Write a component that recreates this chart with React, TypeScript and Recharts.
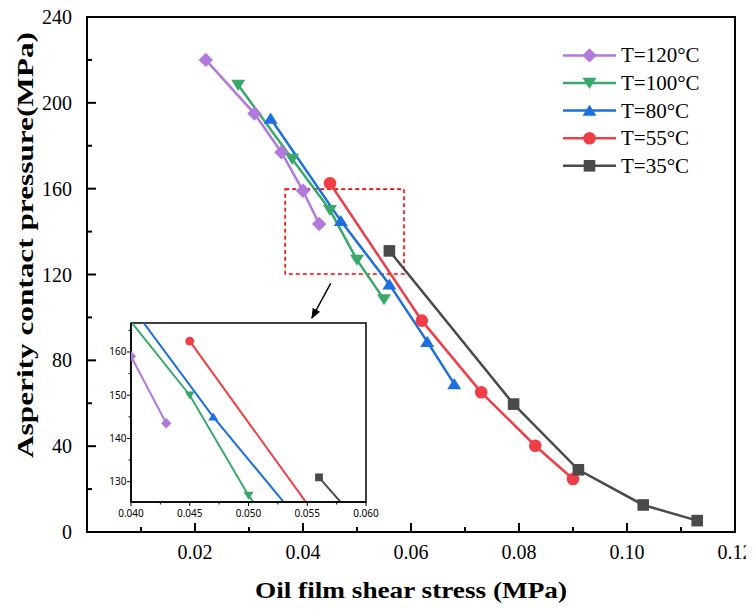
import React from "react";
import { LineChart, Line, XAxis, YAxis, ReferenceArea, Legend } from "recharts";

// oil film shear stress (MPa) vs asperity contact pressure (MPa), one pair per temperature
const t120Stress = [0.022, 0.031, 0.036, 0.04, 0.043];
const t120Pressure = [220, 195, 177, 159, 143.5];
const t100Stress = [0.028, 0.038, 0.045, 0.05, 0.055];
const t100Pressure = [208.3, 173.8, 150, 126.8, 108.4];
const t80Stress = [0.034, 0.047, 0.056, 0.063, 0.068];
const t80Pressure = [192.7, 145, 115.4, 88.7, 69];
const t55Stress = [0.045, 0.062, 0.073, 0.083, 0.09];
const t55Pressure = [162.5, 98.5, 65.1, 40.2, 24.7];
const t35Stress = [0.056, 0.079, 0.091, 0.103, 0.113];
const t35Pressure = [131, 59.6, 29, 12.6, 5.3];

const seriesLabels = ["T=120°C", "T=100°C", "T=80°C", "T=55°C", "T=35°C"];

const xMajor = [0.02, 0.04, 0.06, 0.08, 0.1, 0.12];
const xMinor = [0.01, 0.03, 0.05, 0.07, 0.09, 0.11];
const yMajor = [0, 40, 80, 120, 160, 200, 240];
const yMinor = [20, 60, 100, 140, 180, 220];

const insetXMajor = [0.04, 0.045, 0.05, 0.055, 0.06];
const insetXMinor = [0.0425, 0.0475, 0.0525, 0.0575];
const insetYMajor = [130, 140, 150, 160];
const insetYMinor = [135, 145, 155, 165];

// dashed zoom window drawn on the main chart
const zoomX = [0.0367, 0.0587];
const zoomY = [120.2, 159.8];

const toPoints = (xs: number[], ys: number[]) => xs.map((x, i) => ({ x, y: ys[i] }));
const series = [
  toPoints(t120Stress, t120Pressure),
  toPoints(t100Stress, t100Pressure),
  toPoints(t80Stress, t80Pressure),
  toPoints(t55Stress, t55Pressure),
  toPoints(t35Stress, t35Pressure),
];

const colors = ["#B279DD", "#38A96A", "#1C6FDF", "#EF3E46", "#4A4A4A"];
const shapes = ["diamond", "down", "up", "circle", "square"];
const mainSize = [7.2, 7, 7, 6.3, 5.8];
const insetSize = [5.2, 5, 5, 4.4, 3.9];

const SERIF = "'Liberation Serif', 'Times New Roman', serif";
const SANS = "'Noto Sans', 'Open Sans', sans-serif";

function Marker({ shape, cx, cy, r, color }: any) {
  if (cx == null || cy == null) return null;
  switch (shape) {
    case "diamond":
      return <polygon points={`${cx},${cy - r} ${cx + r},${cy} ${cx},${cy + r} ${cx - r},${cy}`} fill={color} />;
    case "down":
      return <polygon points={`${cx - r},${cy - r * 0.75} ${cx + r},${cy - r * 0.75} ${cx},${cy + r * 0.85}`} fill={color} />;
    case "up":
      return <polygon points={`${cx},${cy - r * 0.85} ${cx + r},${cy + r * 0.75} ${cx - r},${cy + r * 0.75}`} fill={color} />;
    case "circle":
      return <circle cx={cx} cy={cy} r={r} fill={color} />;
    default:
      return <rect x={cx - r} y={cy - r} width={2 * r} height={2 * r} fill={color} />;
  }
}

const isIn = (list: number[], v: number) => list.some((t) => Math.abs(t - v) < 1e-9);

const MainXTick = ({ x, y, payload }: any) => {
  const major = isIn(xMajor, payload.value);
  return (
    <g>
      <line x1={x} x2={x} y1={y} y2={y - (major ? 9 : 5)} stroke="#000" strokeWidth={2} />
      {major && (
        <text x={x} y={y + 27} textAnchor="middle" fontSize={20} fontFamily={SERIF} fill="#000">
          {payload.value.toFixed(2)}
        </text>
      )}
    </g>
  );
};

const MainYTick = ({ x, y, payload }: any) => {
  const major = isIn(yMajor, payload.value);
  return (
    <g>
      <line x1={x} x2={x + (major ? 9 : 5)} y1={y} y2={y} stroke="#000" strokeWidth={2} />
      {major && (
        <text x={x - 15} y={y + 7} textAnchor="end" fontSize={20} fontFamily={SERIF} fill="#000">
          {payload.value}
        </text>
      )}
    </g>
  );
};

const InsetXTick = ({ x, y, payload }: any) => {
  const major = isIn(insetXMajor, payload.value);
  return (
    <g>
      <line x1={x} x2={x} y1={y} y2={y + (major ? 4 : 2.5)} stroke="#000" strokeWidth={1} />
      {major && (
        <text x={x} y={y + 15} textAnchor="middle" fontSize={10} fontFamily={SANS} fill="#000">
          {payload.value.toFixed(3)}
        </text>
      )}
    </g>
  );
};

const InsetYTick = ({ x, y, payload }: any) => {
  const major = isIn(insetYMajor, payload.value);
  return (
    <g>
      <line x1={x} x2={x - (major ? 4 : 2.5)} y1={y} y2={y} stroke="#000" strokeWidth={1} />
      {major && (
        <text x={x - 4.5} y={y + 3.5} textAnchor="end" fontSize={10} fontFamily={SANS} fill="#000">
          {payload.value}
        </text>
      )}
    </g>
  );
};

const LegendBox = () => (
  <svg width={150} height={150}>
    {seriesLabels.map((label, i) => {
      const y = 17.4 + i * 27.6;
      return (
        <g key={label}>
          <line x1={5} x2={58} y1={y} y2={y} stroke={colors[i]} strokeWidth={2.5} />
          <Marker shape={shapes[i]} cx={31.5} cy={y} r={mainSize[i]} color={colors[i]} />
          <text x={63} y={y + 7} fontSize={21} fontFamily={SERIF} fill="#000">
            {label}
          </text>
        </g>
      );
    })}
  </svg>
);

const makeDot = (i: number, sizes: number[]) => (p: any) =>
  <Marker key={`d-${i}-${p.index}`} shape={shapes[i]} cx={p.cx} cy={p.cy} r={sizes[i]} color={colors[i]} />;

export default function App() {
  return (
    <div style={{ position: "relative", width: 746, height: 602 }}>
      <LineChart width={746} height={602} margin={{ top: 9, right: 19, bottom: 28, left: 19 }}>
        <XAxis
          type="number"
          dataKey="x"
          domain={[0, 0.12]}
          ticks={[...xMinor, ...xMajor].sort((a, b) => a - b)}
          interval={0}
          height={50}
          tickSize={0}
          tickMargin={0}
          tick={<MainXTick />}
          axisLine={{ stroke: "#000", strokeWidth: 2 }}
          tickLine={false}
        />
        <YAxis
          type="number"
          dataKey="y"
          domain={[0, 240]}
          ticks={[...yMinor, ...yMajor].sort((a, b) => a - b)}
          interval={0}
          width={60}
          tickSize={0}
          tickMargin={0}
          tick={<MainYTick />}
          axisLine={{ stroke: "#000", strokeWidth: 2 }}
          tickLine={false}
        />
        <ReferenceArea x1={0} x2={0.12} y1={0} y2={240} fill="none" stroke="#000" strokeWidth={2} />
        <ReferenceArea
          x1={zoomX[0]}
          x2={zoomX[1]}
          y1={zoomY[0]}
          y2={zoomY[1]}
          fill="none"
          stroke="#FF0000"
          strokeWidth={1.6}
          strokeDasharray="4 3"
        />
        {series.map((pts, i) => (
          <Line
            key={seriesLabels[i]}
            name={seriesLabels[i]}
            data={pts}
            dataKey="y"
            type="linear"
            stroke={colors[i]}
            strokeWidth={2.5}
            dot={makeDot(i, mainSize)}
            activeDot={false}
            isAnimationActive={false}
          />
        ))}
        <Legend
          layout="horizontal"
          verticalAlign="middle"
          align="center"
          content={<LegendBox />}
          wrapperStyle={{ position: "absolute", left: 550, top: 30, width: 150, height: 150 }}
        />
      </LineChart>

      <div style={{ position: "absolute", left: 92, top: 310, width: 290, height: 204, background: "#fff" }}>
        <LineChart width={290} height={204} margin={{ top: 5, right: 24, bottom: 0, left: 0 }}>
          <XAxis
            type="number"
            dataKey="x"
            domain={[0.04, 0.06]}
            allowDataOverflow
            ticks={[...insetXMinor, ...insetXMajor].sort((a, b) => a - b)}
            interval={0}
            height={20}
            tickSize={0}
            tickMargin={0}
            tick={<InsetXTick />}
            axisLine={{ stroke: "#000", strokeWidth: 1.5 }}
            tickLine={false}
          />
          <YAxis
            type="number"
            dataKey="y"
            domain={[125.3, 166.7]}
            allowDataOverflow
            ticks={[...insetYMinor, ...insetYMajor].sort((a, b) => a - b)}
            interval={0}
            width={31}
            tickSize={0}
            tickMargin={0}
            tick={<InsetYTick />}
            axisLine={{ stroke: "#000", strokeWidth: 1.5 }}
            tickLine={false}
          />
          {series.map((pts, i) => (
            <Line
              key={seriesLabels[i]}
              data={pts}
              dataKey="y"
              type="linear"
              stroke={colors[i]}
              strokeWidth={2}
              dot={makeDot(i, insetSize)}
              activeDot={false}
              isAnimationActive={false}
            />
          ))}
          <ReferenceArea x1={0.04} x2={0.06} y1={125.3} y2={166.7} fill="none" stroke="#000" strokeWidth={1.5} />
        </LineChart>
      </div>

      <svg width={746} height={602} style={{ position: "absolute", left: 0, top: 0, pointerEvents: "none" }}>
        <defs>
          <marker id="arrowHead" viewBox="0 0 10 10" refX="9" refY="5" markerWidth="7" markerHeight="7" orient="auto">
            <path d="M0,1 L10,5 L0,9 z" fill="#000" />
          </marker>
        </defs>
        <line x1={322.7} y1={275.3} x2={303.9} y2={310} stroke="#000" strokeWidth={1.5} markerEnd="url(#arrowHead)" />
        <text
          x={403}
          y={590}
          textAnchor="middle"
          fontSize={24}
          fontWeight="bold"
          fontFamily={SERIF}
          textLength={312}
          lengthAdjust="spacingAndGlyphs"
        >
          Oil film shear stress (MPa)
        </text>
        <text
          x={25}
          y={237}
          transform="rotate(-90 25 237)"
          textAnchor="middle"
          fontSize={23}
          fontWeight="bold"
          fontFamily={SERIF}
          textLength={426}
          lengthAdjust="spacingAndGlyphs"
        >
          Asperity contact pressure(MPa)
        </text>
      </svg>
    </div>
  );
}
